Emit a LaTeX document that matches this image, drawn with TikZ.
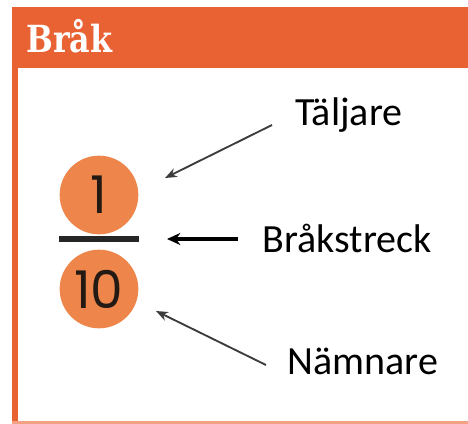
\documentclass[tikz,border=0pt]{standalone}
\usepackage{fontspec}
\setmainfont{Carlito}
\newfontfamily\titlefont{DejaVu Serif}
\newfontfamily\digitfont{Poppins}
\usepackage{tikz}
\usetikzlibrary{arrows.meta}

\definecolor{brakhead}{RGB}{233,98,52}
\definecolor{brakcirc}{RGB}{238,134,76}
\definecolor{brakdigit}{RGB}{35,26,20}
\definecolor{brakarrow}{RGB}{60,60,60}

\tikzset{
  talcirc/.style={circle,fill=brakcirc,inner sep=0pt,minimum size=59pt,text=brakdigit,font=\digitfont\fontsize{39}{39}\selectfont},
  namelabel/.style={inner sep=0.75pt,font=\fontsize{30}{30}\selectfont},
  thinarrow/.style={draw=brakarrow,line width=1.4pt,-{Stealth[length=9pt,width=7pt]}},
  bararrow/.style={draw=black,line width=2.4pt,-{Stealth[length=10pt,width=9pt]}}
}

\begin{document}
\begin{tikzpicture}[x=0.75pt,y=0.75pt,yscale=-1,xscale=1]
\useasboundingbox (0,0) rectangle (468,424);

%Shape: Frame
\fill [brakhead!60] (12,7) rectangle (468,424);
\fill [brakhead] (12,7) rectangle (468,68);
\fill [brakhead] (12,68) rectangle (18,421);
\fill [white] (18,68) rectangle (468,421);

% Title Node
\node (titel) [anchor=west,inner sep=0pt,text=white,xscale=0.85,font=\titlefont\bfseries\fontsize{28}{28}\selectfont] at (26,36) {Bråk};

% Fraction
\node (taljcirc) [talcirc] at (99,195) {1};
\node (namncirc) [talcirc] at (99,289) {10};
\draw [line width=3.8pt,black!85] (59,239) -- (139,239) coordinate (streck);

% Text Node
\node (talj) [namelabel] at (349,115) {Täljare};
% Text Node
\node (strecktext) [namelabel] at (347,238) {Bråkstreck};
% Text Node
\node (namn) [namelabel] at (363,361) {Nämnare};

% Arrows
\coordinate (taljstart) at (272,125);
\coordinate (taljend) at (165,178);
\coordinate (streckstart) at (238,239);
\coordinate (streckend) at (167,239);
\coordinate (namnstart) at (266,365);
\coordinate (namnend) at (156,311);
\draw [thinarrow] (taljstart) -- (taljend);
\draw [bararrow] (streckstart) -- (streckend);
\draw [thinarrow] (namnstart) -- (namnend);

\end{tikzpicture}
\end{document}
